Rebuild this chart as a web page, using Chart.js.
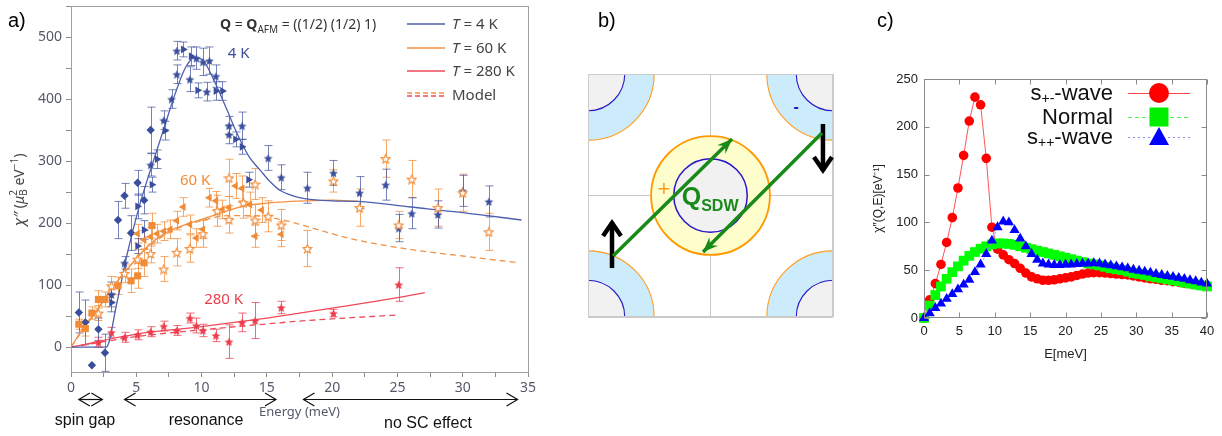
<!DOCTYPE html>
<html>
<head>
<meta charset="utf-8">
<title>Spin resonance</title>
<script src="https://cdn.jsdelivr.net/npm/chart.js@4.4.1/dist/chart.umd.min.js"></script>
<style>
  html, body { margin: 0; padding: 0; background: #fff; }
  #wrap { position: relative; width: 1222px; height: 436px; overflow: hidden; }
  canvas { position: absolute; top: 0; }
  #chartA { left: 0; }
  #chartB { left: 560px; }
  #chartC { left: 860px; }
</style>
</head>
<body>
<div id="wrap">
  <canvas id="chartA" width="545" height="436"></canvas>
  <canvas id="chartB" width="300" height="436"></canvas>
  <canvas id="chartC" width="362" height="436"></canvas>
</div>
<script>
// ---------- panel a) measured chi'' at Q_AFM ----------
// T = 4 K
const blueDiamondE = [0.6, 1.1, 1.6, 2.1, 2.6, 3.6, 4.1, 4.6, 5.1, 5.6, 6.1];
const blueDiamondChi = [56, 40, -29, 29, -9, 205, 244, 184, 265, 237, 350];
const blueDiamondErr = [33, 36, 0, 18, 30, 30, 20, 28, 20, 22, 37];

const blueTriE = [3.1, 5.1, 5.1, 5.6, 6.2, 6.6, 7.2, 8.6, 9.2, 9.7, 11.1, 11.6, 12.6, 13.1, 13.6];
const blueTriChi = [72, 163, 227, 189, 262, 303, 349, 480, 469, 414, 413, 413, 335, 323, 270];
const blueTriErr = [15, 12, 20, 15, 12, 15, 15, 12, 15, 12, 15, 15, 12, 12, 12];

const blueStarE = [3.1, 4.1, 6.1, 7.1, 7.7, 8.1, 8.1, 9.1, 9.6, 10.1, 10.6, 10.4, 11.1, 12.1, 12.1, 13.1, 15.1, 16.1, 18.1, 20.1, 22.1, 24.1, 25.1, 26.1, 28.1, 30.0, 32.0];
const blueStarChi = [85, 136, 294, 366, 400, 478, 440, 432, 466, 460, 462, 412, 437, 357, 343, 357, 305, 274, 257, 281, 249, 262, 192, 216, 214, 252, 235];
const blueStarErr = [20, 10, 18, 15, 15, 15, 15, 20, 18, 22, 22, 15, 18, 15, 15, 22, 20, 20, 25, 20, 26, 25, 22, 25, 22, 25, 25];

// T = 60 K
const orangeSquareE = [0.6, 1.1, 1.6, 2.1, 2.6, 3.6, 4.6, 5.1, 5.6, 6.2];
const orangeSquareChi = [37, 30, 55, 77, 77, 99, 107, 115, 136, 196];
const orangeSquareErr = [8, 12, 10, 14, 12, 14, 19, 20, 22, 20];

const orangeTriE = [5.1, 5.6, 6.1, 6.6, 7.1, 7.6, 8.1, 8.6, 9.1, 9.6, 10.1, 10.6, 11.1, 11.6, 12.1, 12.6, 13.1, 13.7, 14.1, 14.6, 16.1];
const orangeTriChi = [183, 173, 178, 183, 187, 190, 204, 226, 198, 176, 190, 241, 236, 222, 225, 260, 256, 230, 179, 221, 182];
const orangeTriErr = [15, 15, 15, 15, 15, 15, 15, 15, 15, 15, 15, 15, 15, 15, 18, 20, 20, 20, 18, 20, 20];

const orangeStarE = [2.1, 3.1, 4.1, 5.1, 6.1, 7.1, 8.1, 9.1, 10.1, 11.2, 12.1, 12.1, 13.2, 14.1, 14.1, 15.1, 16.1, 18.1, 20.1, 22.1, 24.1, 25.1, 26.1, 28.1, 30.0, 32.0];
const orangeStarChi = [55, 99, 119, 142, 151, 126, 153, 159, 183, 220, 273, 206, 233, 263, 205, 211, 197, 159, 268, 225, 304, 197, 271, 225, 249, 186];
const orangeStarErr = [12, 15, 15, 15, 15, 20, 22, 22, 22, 25, 30, 22, 25, 25, 25, 25, 25, 29, 18, 30, 30, 22, 30, 30, 30, 30];

// T = 280 K
const redStarE = [2.1, 3.1, 4.1, 5.1, 6.1, 7.1, 8.1, 9.1, 9.6, 10.1, 11.1, 12.1, 13.1, 14.1, 16.1, 20.1, 25.1];
const redStarChi = [8, 24, 16, 20, 25, 34, 27, 47, 35, 27, 19, 9, 40, 43, 64, 55, 101];
const redStarErr = [8, 8, 8, 8, 8, 8, 8, 8, 12, 10, 10, 27, 15, 29, 10, 6, 27];

// fitted curves and model
const fit4E = [0, 2.7, 3.5, 4.3, 5.2, 6, 7, 8, 8.8, 9.5, 10.2, 11, 12, 12.5, 13, 13.7, 14.5, 15.2, 16, 17, 18, 20, 22, 26, 30, 34.5];
const fit4Chi = [0, 0, 70, 150, 225, 280, 345, 410, 452, 467, 460, 428, 380, 355, 332, 305, 285, 268, 253, 244, 239, 236, 235, 226, 217, 205];
const fit60E = [0, 1, 2, 3, 4, 5, 6, 7, 8, 9, 10, 11, 12, 13, 14, 16, 18, 20, 22];
const fit60Chi = [0, 33, 60, 92, 118, 143, 165, 181, 192, 199, 206, 213, 220, 226, 230, 234, 236, 237, 235];
const model60E = [0, 2, 4, 6, 8, 10, 12, 14, 16, 18, 21.4, 26.5, 30, 34.3];
const model60Chi = [0, 60, 118, 163, 190, 204, 212, 212, 206, 195, 175, 156, 147, 136];
const fit280E = [0, 5, 10, 15, 20, 25, 27.1];
const fit280Chi = [0, 21, 33, 47, 63, 80, 88];
const model280E = [0, 5, 10, 13.7, 17.5, 25];
const model280Chi = [0, 17, 28, 35, 42, 52];

// arrows under the axis (energy ranges)
const rangeNames = ['spin gap', 'resonance', 'no SC effect'];
const rangeFrom = [0.6, 4.1, 17.8];
const rangeTo = [2.4, 15.7, 34.2];

// ---------- panel b) Fermi surface sketch (units of the zone half width) ----------
const pocketX = [-1, 1, -1, 1];
const pocketY = [1, 1, -1, -1];
const pocketOuterR = 0.54;
const pocketInnerR = 0.30;
const centerOuterR = 0.485;
const centerInnerR = 0.30;
const qFromX = [-0.796, 0.91];
const qFromY = [-0.498, 0.514];
const qToX = [0.176, -0.061];
const qToY = [0.465, -0.465];
const spinX = [-0.804, 0.918];
const spinFromY = [-0.597, 0.588];
const spinToY = [-0.218, 0.202];

// ---------- panel c) calculated chi''(Q,E) ----------
const energyC = [0, 0.8, 1.6, 2.4, 3.2, 4, 4.8, 5.6, 6.4, 7.2, 8, 8.8, 9.6, 10.4, 11.2, 12, 12.8, 13.6, 14.4, 15.2,
  16, 16.8, 17.6, 18.4, 19.2, 20, 20.8, 21.6, 22.4, 23.2, 24, 24.8, 25.6, 26.4, 27.2, 28, 28.8, 29.6, 30.4, 31.2,
  32, 32.8, 33.6, 34.4, 35.2, 36, 36.8, 37.6, 38.4, 39.2, 40];
const spmWave = [0, 19, 36, 56, 79, 105, 136, 170, 206, 231, 223, 167, 95, 72, 66, 61, 57, 52, 47, 43,
  41, 39.5, 39.5, 40, 41, 42, 43, 44.5, 46, 47, 47.5, 47.5, 47, 46.5, 46, 45.5, 45, 44, 43, 42,
  41, 40.5, 39.5, 39, 38, 37.5, 36.5, 36, 35, 34.5, 34];
const normalState = [0, 13, 24, 33, 41, 48, 54, 60, 65, 69, 72.5, 75, 77, 78, 78, 77.5, 76.5, 75, 73.5, 72,
  70.5, 69, 67.5, 66, 64.5, 63, 61.5, 60, 58.5, 57, 56, 55, 53.5, 52, 51, 50, 48.5, 47, 46, 45,
  43.5, 42.5, 41.5, 40.5, 39.5, 38.5, 37, 36, 35, 34, 33];
const sppWave = [0, 5, 10.5, 15, 20, 25, 30, 35, 40, 48, 56, 67, 81, 95, 101, 100, 92, 83, 75, 67,
  61, 57, 56, 55.5, 55.5, 56, 56, 56.5, 57, 57, 57.5, 57, 56, 55, 54, 53, 52, 50.5, 49.5, 48.5,
  47.5, 46, 45, 44, 43, 42, 41, 39.5, 38.5, 37, 36];

// ---------- shared helpers ----------
const blueC = '#3a4e9c', orangeC = '#f28b35', redC = '#ec3b4c';
const blueLine = '#4d5fae', orangeLine = '#f39244', redLine = '#ef4a58';
const tickA = '#555a6a', axisA = '#8c8c8c';
const sansA = 'Noto Sans';
const sansC = 'Liberation Sans';

function pts(xs, ys) { return xs.map((x, i) => ({ x: x, y: ys[i] })); }

function starImage(size, fill, stroke) {
  const c = document.createElement('canvas');
  c.width = size; c.height = size;
  const g = c.getContext('2d');
  const m = size / 2, R = size / 2 - 0.8, r = R * 0.45;
  g.beginPath();
  for (let k = 0; k < 10; k++) {
    const a = -Math.PI / 2 + k * Math.PI / 5;
    const rr = k % 2 ? r : R;
    g.lineTo(m + rr * Math.cos(a), m + 0.6 + rr * Math.sin(a));
  }
  g.closePath();
  g.fillStyle = fill; g.fill();
  if (stroke) { g.strokeStyle = stroke; g.lineWidth = 1.1; g.stroke(); }
  return c;
}

// text made of pieces (sub/superscripts, italic, bold)
function drawPieces(ctx, x, y, pieces, align) {
  let total = 0;
  pieces.forEach(p => { ctx.font = p.f; p.w = ctx.measureText(p.t).width; if (!p.keep) total += p.w; });
  let cx = align === 'right' ? x - total : align === 'center' ? x - total / 2 : x;
  pieces.forEach(p => {
    ctx.font = p.f;
    ctx.fillText(p.t, cx, y + (p.dy || 0));
    if (!p.keep) cx += p.w;
  });
}

function chevron(ctx, x, y, dir, size) {
  ctx.beginPath();
  ctx.moveTo(x - dir * size, y - size * 0.6);
  ctx.lineTo(x, y);
  ctx.lineTo(x - dir * size, y + size * 0.6);
  ctx.stroke();
}

// ---------- panel a ----------
const errorBars = {
  id: 'errorBars',
  beforeDatasetsDraw(chart) {
    const { ctx, scales: { x, y } } = chart;
    ctx.save();
    chart.data.datasets.forEach(ds => {
      if (!ds.errors) return;
      ctx.strokeStyle = ds.errorColor;
      ctx.lineWidth = 1;
      ds.data.forEach((p, i) => {
        const e = ds.errors[i];
        if (!e) return;
        const px = Math.round(x.getPixelForValue(p.x)) + 0.5;
        const top = y.getPixelForValue(p.y + e), bot = y.getPixelForValue(p.y - e);
        ctx.beginPath();
        ctx.moveTo(px, top); ctx.lineTo(px, bot);
        ctx.moveTo(px - 4, top); ctx.lineTo(px + 4, top);
        ctx.moveTo(px - 4, bot); ctx.lineTo(px + 4, bot);
        ctx.stroke();
      });
    });
    ctx.restore();
  }
};

const decorA = {
  id: 'decorA',
  afterDraw(chart) {
    const { ctx, chartArea: a, scales: { x, y } } = chart;
    ctx.save();
    // frame
    ctx.strokeStyle = '#a0a0a0';
    ctx.lineWidth = 1;
    ctx.strokeRect(a.left + 0.5, a.top + 0.5, a.right - a.left, a.bottom - a.top);

    // title
    ctx.fillStyle = '#333';
    ctx.textBaseline = 'alphabetic';
    drawPieces(ctx, 220, 29, [
      { t: 'Q', f: `bold 14px ${sansA}` },
      { t: ' = ', f: `14px ${sansA}` },
      { t: 'Q', f: `bold 14px ${sansA}` },
      { t: 'AFM', f: `10px ${sansA}`, dy: 4 },
      { t: ' = ((1/2) (1/2) 1)', f: `14px ${sansA}` }
    ], 'left');

    // legend
    const rows = [
      { y: 29, c: blueLine, txt: ' = 4 K' },
      { y: 53, c: orangeLine, txt: ' = 60 K' },
      { y: 76, c: redLine, txt: ' = 280 K' }
    ];
    rows.forEach(r => {
      ctx.strokeStyle = r.c; ctx.lineWidth = 1.3; ctx.setLineDash([]);
      ctx.beginPath(); ctx.moveTo(407, r.y - 5); ctx.lineTo(445, r.y - 5); ctx.stroke();
      ctx.fillStyle = '#444';
      drawPieces(ctx, 452, r.y, [
        { t: 'T', f: `italic 15px ${sansA}` },
        { t: r.txt, f: `15px ${sansA}` }
      ], 'left');
    });
    ctx.setLineDash([5, 3]);
    ctx.strokeStyle = orangeLine;
    ctx.beginPath(); ctx.moveTo(407, 93); ctx.lineTo(445, 93); ctx.stroke();
    ctx.strokeStyle = redLine;
    ctx.beginPath(); ctx.moveTo(407, 96); ctx.lineTo(445, 96); ctx.stroke();
    ctx.setLineDash([]);
    ctx.fillStyle = '#444';
    ctx.font = `15px ${sansA}`;
    ctx.fillText('Model', 452, 100);

    // curve labels
    ctx.textBaseline = 'middle';
    ctx.font = `15px ${sansA}`;
    ctx.fillStyle = blueC; ctx.fillText('4 K', x.getPixelForValue(12.0), y.getPixelForValue(473));
    ctx.fillStyle = orangeC; ctx.fillText('60 K', x.getPixelForValue(8.35), y.getPixelForValue(269));
    ctx.fillStyle = redC; ctx.fillText('280 K', x.getPixelForValue(10.2), y.getPixelForValue(77));

    // y title
    ctx.save();
    ctx.translate(20, 190);
    ctx.rotate(-Math.PI / 2);
    ctx.fillStyle = '#444';
    ctx.textBaseline = 'middle';
    drawPieces(ctx, 0, 0, [
      { t: '\u03C7\u2033', f: `italic 15px ${sansA}` },
      { t: ' (', f: `14px ${sansA}` },
      { t: '\u03BC', f: `italic 14px ${sansA}` },
      { t: '2', f: `10px ${sansA}`, dy: -6, keep: true },
      { t: 'B', f: `10px ${sansA}`, dy: 4 },
      { t: ' eV', f: `14px ${sansA}` },
      { t: '\u22121', f: `10px ${sansA}`, dy: -5 },
      { t: ')', f: `14px ${sansA}` }
    ], 'center');
    ctx.restore();

    // ranges below the axis
    ctx.strokeStyle = '#111';
    ctx.fillStyle = '#111';
    ctx.lineWidth = 1.2;
    ctx.font = `16px ${sansC}`;
    ctx.textAlign = 'center';
    ctx.textBaseline = 'middle';
    const labelY = [421, 421, 424];
    rangeFrom.forEach((e0, i) => {
      const x0 = x.getPixelForValue(e0), x1 = x.getPixelForValue(rangeTo[i]);
      const ay = 399.5;
      ctx.beginPath(); ctx.moveTo(x0, ay); ctx.lineTo(x1, ay); ctx.stroke();
      const s = Math.min(11, (x1 - x0) / 2);
      chevron(ctx, x0, ay, -1, s);
      chevron(ctx, x1, ay, 1, s);
      const mid = i === 0 ? 85 : i === 1 ? 206 : 428;
      ctx.fillText(rangeNames[i], mid, labelY[i]);
    });

    // panel letter
    ctx.textAlign = 'left';
    ctx.textBaseline = 'alphabetic';
    ctx.font = `20px ${sansC}`;
    ctx.fillStyle = '#000';
    ctx.fillText('a)', 8, 27);
    ctx.restore();
  }
};

const starBlue = starImage(11, blueC);
const starRed = starImage(11, redC);
const starOpen = starImage(11, '#fff', orangeC);

new Chart(document.getElementById('chartA'), {
  type: 'scatter',
  data: {
    datasets: [
      { data: pts(redStarE, redStarChi), errors: redStarErr, errorColor: 'rgba(236,59,76,0.75)', pointStyle: starRed, pointRadius: 5 },
      { data: pts(orangeStarE, orangeStarChi), errors: orangeStarErr, errorColor: 'rgba(242,139,53,0.75)', pointStyle: starOpen, pointRadius: 5 },
      { data: pts(orangeTriE, orangeTriChi), errors: orangeTriErr, errorColor: 'rgba(242,139,53,0.75)', pointStyle: 'triangle', pointRotation: 270, pointRadius: 4.5, pointBackgroundColor: orangeC, pointBorderWidth: 0 },
      { data: pts(orangeSquareE, orangeSquareChi), errors: orangeSquareErr, errorColor: 'rgba(242,139,53,0.75)', pointStyle: 'rect', pointRadius: 5, pointBackgroundColor: orangeC, pointBorderWidth: 0 },
      { data: pts(blueStarE, blueStarChi), errors: blueStarErr, errorColor: 'rgba(58,78,156,0.7)', pointStyle: starBlue, pointRadius: 5 },
      { data: pts(blueTriE, blueTriChi), errors: blueTriErr, errorColor: 'rgba(58,78,156,0.7)', pointStyle: 'triangle', pointRotation: 90, pointRadius: 4.5, pointBackgroundColor: blueC, pointBorderWidth: 0 },
      { data: pts(blueDiamondE, blueDiamondChi), errors: blueDiamondErr, errorColor: 'rgba(58,78,156,0.7)', pointStyle: 'rectRot', pointRadius: 4.2, pointBackgroundColor: blueC, pointBorderWidth: 0 },
      { data: pts(fit4E, fit4Chi), showLine: true, borderColor: blueLine, borderWidth: 1.3, pointRadius: 0, cubicInterpolationMode: 'monotone' },
      { data: pts(fit60E, fit60Chi), showLine: true, borderColor: orangeLine, borderWidth: 1.3, pointRadius: 0, cubicInterpolationMode: 'monotone' },
      { data: pts(model60E, model60Chi), showLine: true, borderColor: orangeLine, borderWidth: 1.3, borderDash: [6, 4], pointRadius: 0, cubicInterpolationMode: 'monotone' },
      { data: pts(fit280E, fit280Chi), showLine: true, borderColor: redLine, borderWidth: 1.3, pointRadius: 0, cubicInterpolationMode: 'monotone' },
      { data: pts(model280E, model280Chi), showLine: true, borderColor: redLine, borderWidth: 1.3, borderDash: [6, 4], pointRadius: 0, cubicInterpolationMode: 'monotone' }
    ]
  },
  options: {
    responsive: false,
    animation: false,
    layout: { padding: { top: 4, right: 17, bottom: 0, left: 0 } },
    plugins: { legend: { display: false }, tooltip: { enabled: false } },
    scales: {
      x: {
        type: 'linear', min: 0, max: 35,
        ticks: {
          stepSize: 2.5, includeBounds: false, autoSkip: false, maxRotation: 0, padding: 3,
          color: tickA, font: { family: sansA, size: 14 },
          callback: v => (v % 5 === 0 ? v : '')
        },
        grid: { drawOnChartArea: false, drawTicks: true, tickLength: 5, color: axisA },
        border: { color: axisA },
        title: { display: true, text: 'Energy (meV)', color: tickA, font: { family: sansA, size: 13 }, padding: { top: 0, bottom: 16 } },
        afterFit: s => { s.height = 64; s.paddingLeft = 0; s.paddingRight = 0; }
      },
      y: {
        type: 'linear', min: -40, max: 550,
        ticks: {
          stepSize: 50, includeBounds: false, autoSkip: false, padding: 4,
          color: tickA, font: { family: sansA, size: 14 },
          callback: v => (v % 100 === 0 ? v : '')
        },
        grid: { drawOnChartArea: false, drawTicks: true, tickLength: 5, color: axisA },
        border: { color: axisA },
        afterFit: s => { s.width = 71; s.paddingTop = 0; s.paddingBottom = 0; }
      }
    }
  },
  plugins: [errorBars, decorA]
});

// ---------- panel b ----------
const greenQ = '#188a18';
const fermiSketch = {
  id: 'fermiSketch',
  beforeDatasetsDraw(chart) {
    const { ctx, chartArea: a, scales: { x, y } } = chart;
    const px = v => x.getPixelForValue(v), py = v => y.getPixelForValue(v);
    const rad = r => px(r) - px(0);
    ctx.save();
    ctx.beginPath(); ctx.rect(a.left, a.top, a.right - a.left, a.bottom - a.top); ctx.clip();
    pocketX.forEach((cx, i) => {
      const X = px(cx), Y = py(pocketY[i]);
      ctx.beginPath(); ctx.arc(X, Y, rad(pocketOuterR), 0, 2 * Math.PI);
      ctx.fillStyle = '#ccecfb'; ctx.fill();
      ctx.strokeStyle = '#ff9d1e'; ctx.lineWidth = 1.1; ctx.stroke();
      ctx.beginPath(); ctx.arc(X, Y, rad(pocketInnerR), 0, 2 * Math.PI);
      ctx.fillStyle = '#f1f1f1'; ctx.fill();
      ctx.strokeStyle = '#2a17c8'; ctx.stroke();
    });
    ctx.beginPath(); ctx.arc(px(0), py(0), rad(centerOuterR), 0, 2 * Math.PI);
    ctx.fillStyle = '#fefdcc'; ctx.fill();
    ctx.strokeStyle = '#ff9900'; ctx.lineWidth = 1.8; ctx.stroke();
    ctx.beginPath(); ctx.arc(px(0), py(0), rad(centerInnerR), 0, 2 * Math.PI);
    ctx.fillStyle = '#f1f1f1'; ctx.fill();
    ctx.strokeStyle = '#2a17c8'; ctx.lineWidth = 1.5; ctx.stroke();
    ctx.restore();
    // outer frame on top of the pockets
    ctx.save();
    ctx.strokeStyle = '#cccccc'; ctx.lineWidth = 1;
    ctx.strokeRect(Math.round(a.left) + 0.5, Math.round(a.top) + 0.5, Math.round(a.right - a.left) - 1, Math.round(a.bottom - a.top) - 1);
    ctx.restore();
  },
  afterDatasetsDraw(chart) {
    const { ctx, scales: { x, y } } = chart;
    const px = v => x.getPixelForValue(v), py = v => y.getPixelForValue(v);
    ctx.save();
    // green arrow heads
    ctx.fillStyle = greenQ;
    qToX.forEach((tx, i) => {
      const X = px(tx), Y = py(qToY[i]);
      const ang = Math.atan2(Y - py(qFromY[i]), X - px(qFromX[i]));
      ctx.beginPath();
      ctx.moveTo(X, Y);
      ctx.lineTo(X - 15 * Math.cos(ang) + 6 * Math.sin(ang), Y - 15 * Math.sin(ang) - 6 * Math.cos(ang));
      ctx.lineTo(X - 10 * Math.cos(ang), Y - 10 * Math.sin(ang));
      ctx.lineTo(X - 15 * Math.cos(ang) - 6 * Math.sin(ang), Y - 15 * Math.sin(ang) + 6 * Math.cos(ang));
      ctx.closePath();
      ctx.fill();
    });
    // black spin arrow heads
    ctx.strokeStyle = '#000'; ctx.lineWidth = 4.5; ctx.lineJoin = 'miter';
    spinX.forEach((sx, i) => {
      const X = px(sx), Y = py(spinToY[i]);
      const dir = spinToY[i] > spinFromY[i] ? 1 : -1;
      ctx.beginPath();
      ctx.moveTo(X - 9, Y + dir * 14);
      ctx.lineTo(X, Y + 1 * dir);
      ctx.lineTo(X + 9, Y + dir * 14);
      ctx.stroke();
    });
    // labels
    ctx.textBaseline = 'alphabetic';
    ctx.fillStyle = greenQ;
    drawPieces(ctx, px(-0.235), py(-0.08), [
      { t: 'Q', f: `bold 25px ${sansC}` },
      { t: 'SDW', f: `bold 16px ${sansC}`, dy: 6 }
    ], 'left');
    ctx.textAlign = 'center';
    ctx.textBaseline = 'middle';
    ctx.fillStyle = '#ff9d1e';
    ctx.font = `22px ${sansC}`;
    ctx.fillText('+', px(-0.38), py(0.045));
    ctx.fillStyle = '#2a17c8';
    ctx.font = `bold 16px ${sansC}`;
    ctx.fillText('-', px(0.70), py(0.72));
    ctx.textAlign = 'left';
    ctx.textBaseline = 'alphabetic';
    ctx.fillStyle = '#000';
    ctx.font = `20px ${sansC}`;
    ctx.fillText('b)', 38, 27);
    ctx.restore();
  }
};

const arrowSets = [];
qFromX.forEach((fx, i) => arrowSets.push({
  data: [{ x: fx, y: qFromY[i] }, { x: qToX[i], y: qToY[i] }],
  showLine: true, borderColor: greenQ, borderWidth: 3.5, pointRadius: 0
}));
spinX.forEach((sx, i) => arrowSets.push({
  data: [{ x: sx, y: spinFromY[i] }, { x: sx, y: spinToY[i] }],
  showLine: true, borderColor: '#000', borderWidth: 4.5, pointRadius: 0
}));

new Chart(document.getElementById('chartB'), {
  type: 'scatter',
  data: { datasets: arrowSets },
  options: {
    responsive: false,
    animation: false,
    layout: { padding: { top: 74, right: 27, bottom: 119, left: 28 } },
    plugins: { legend: { display: false }, tooltip: { enabled: false } },
    scales: {
      x: {
        min: -1, max: 1,
        ticks: { display: false, stepSize: 1 },
        grid: { color: '#c8c8c8', drawTicks: false },
        border: { display: false },
        afterFit: s => { s.height = 0; s.paddingLeft = 0; s.paddingRight = 0; }
      },
      y: {
        min: -1, max: 1,
        ticks: { display: false, stepSize: 1 },
        grid: { color: '#c8c8c8', drawTicks: false },
        border: { display: false },
        afterFit: s => { s.width = 0; s.paddingTop = 0; s.paddingBottom = 0; }
      }
    }
  },
  plugins: [fermiSketch]
});

// ---------- panel c ----------
const frameC = {
  id: 'frameC',
  afterDraw(chart) {
    const { ctx, chartArea: a, scales: { x, y } } = chart;
    ctx.save();
    ctx.strokeStyle = '#8a8a8a';
    ctx.lineWidth = 1;
    const L = Math.round(a.left) + 0.5, R = Math.round(a.right) - 0.5;
    const T = Math.round(a.top) + 0.5, B = Math.round(a.bottom) - 0.5;
    ctx.strokeRect(L, T, R - L, B - T);
    ctx.beginPath();
    x.ticks.forEach(t => {
      const X = Math.round(x.getPixelForValue(t.value)) + 0.5;
      ctx.moveTo(X, B); ctx.lineTo(X, B - 5);
      ctx.moveTo(X, T); ctx.lineTo(X, T + 5);
    });
    y.ticks.forEach(t => {
      const Y = Math.round(y.getPixelForValue(t.value)) + 0.5;
      ctx.moveTo(L, Y); ctx.lineTo(L + 5, Y);
      ctx.moveTo(R, Y); ctx.lineTo(R - 5, Y);
    });
    ctx.stroke();

    // legend
    const names = [
      [{ t: 's', f: `22px ${sansC}` }, { t: '+-', f: `14px ${sansC}`, dy: 5 }, { t: '-wave', f: `22px ${sansC}` }],
      [{ t: 'Normal', f: `22px ${sansC}` }],
      [{ t: 's', f: `22px ${sansC}` }, { t: '++', f: `14px ${sansC}`, dy: 5 }, { t: '-wave', f: `22px ${sansC}` }]
    ];
    const rowY = [93, 117, 137];
    const lineCol = ['#ff4444', '#55ee55', '#8a8aff'];
    const dashes = [[], [4, 3], [2, 3]];
    const markCol = ['#ff0000', '#00ee00', '#0000ff'];
    ctx.textBaseline = 'middle';
    rowY.forEach((ry, i) => {
      ctx.fillStyle = '#111';
      drawPieces(ctx, 253, ry + 1, names[i], 'right');
      ctx.strokeStyle = lineCol[i]; ctx.lineWidth = 1; ctx.setLineDash(dashes[i]);
      ctx.beginPath(); ctx.moveTo(268, ry + 0.5); ctx.lineTo(330, ry + 0.5); ctx.stroke();
      ctx.setLineDash([]);
      ctx.fillStyle = markCol[i];
      ctx.beginPath();
      if (i === 0) ctx.arc(299, ry, 10, 0, 2 * Math.PI);
      else if (i === 1) ctx.rect(289.5, ry - 9.5, 19, 19);
      else { ctx.moveTo(299, ry - 10); ctx.lineTo(309, ry + 8); ctx.lineTo(289, ry + 8); ctx.closePath(); }
      ctx.fill();
    });

    ctx.fillStyle = '#000';
    ctx.textBaseline = 'alphabetic';
    ctx.font = `20px ${sansC}`;
    ctx.fillText('c)', 17, 27);
    ctx.restore();
  }
};

new Chart(document.getElementById('chartC'), {
  type: 'scatter',
  data: {
    datasets: [
      { data: pts(energyC, spmWave), order: 3, showLine: true, borderColor: '#ff5555', borderWidth: 1,
        pointStyle: 'circle', pointRadius: 4.8, pointBackgroundColor: '#ff0000', pointBorderWidth: 0 },
      { data: pts(energyC, normalState), order: 2, showLine: true, borderColor: '#55ee55', borderWidth: 1, borderDash: [4, 3],
        pointStyle: 'rect', pointRadius: 6.9, pointBackgroundColor: '#00ff00', pointBorderWidth: 0 },
      { data: pts(energyC, sppWave), order: 1, showLine: true, borderColor: '#8a8aff', borderWidth: 1, borderDash: [2, 2],
        pointStyle: 'triangle', pointRadius: 5.9, pointBackgroundColor: '#0000ff', pointBorderWidth: 0 }
    ]
  },
  options: {
    responsive: false,
    animation: false,
    clip: false,
    layout: { padding: { top: 79, right: 15, bottom: 74, left: 0 } },
    plugins: { legend: { display: false }, tooltip: { enabled: false } },
    scales: {
      x: {
        type: 'linear', min: 0, max: 40,
        ticks: { stepSize: 5, padding: 6, maxRotation: 0, color: '#222', font: { family: sansC, size: 13 } },
        grid: { drawOnChartArea: false, drawTicks: false },
        border: { display: false },
        title: { display: true, text: 'E[meV]', color: '#222', font: { family: sansC, size: 13 }, padding: { top: 0, bottom: 0 } },
        afterFit: s => { s.height = 44; s.paddingLeft = 0; s.paddingRight = 0; }
      },
      y: {
        type: 'linear', min: 0, max: 250,
        ticks: { stepSize: 50, padding: 6, color: '#222', font: { family: sansC, size: 13 } },
        grid: { drawOnChartArea: false, drawTicks: false },
        border: { display: false },
        title: { display: true, text: '\u03C7\u2033(Q,E)[eV\u207B\u00B9]', color: '#222', font: { family: sansC, size: 12 }, padding: { top: 11, bottom: 0 } },
        afterFit: s => { s.width = 64; s.paddingTop = 0; s.paddingBottom = 0; }
      }
    }
  },
  plugins: [frameC]
});
</script>
</body>
</html>
